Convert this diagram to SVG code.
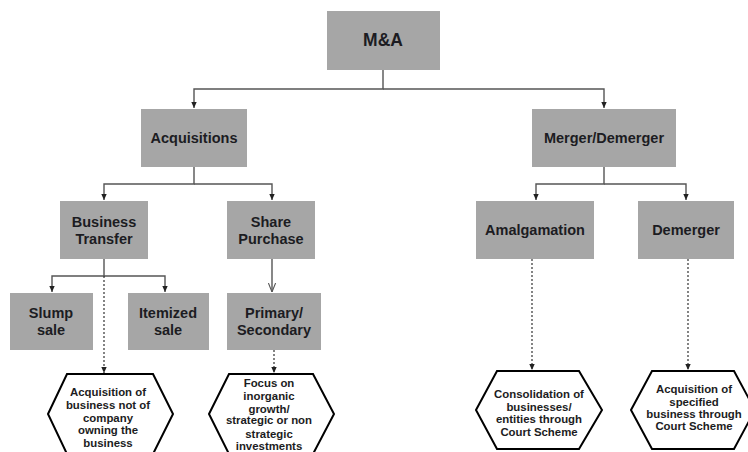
<svg xmlns="http://www.w3.org/2000/svg" width="748" height="452" viewBox="0 0 748 452">
<style>
.box{fill:#a6a6a6;}
.t{font-family:"Liberation Sans",Arial,sans-serif;font-weight:bold;font-size:14.5px;fill:#1c1c22;text-anchor:middle;}
.big{font-size:17.5px;}
.h{font-family:"Liberation Sans",Arial,sans-serif;font-weight:bold;font-size:11.4px;fill:#1c1c22;text-anchor:middle;}
.hex{fill:#ffffff;stroke:#000000;stroke-width:2;stroke-linejoin:miter;}
.c{fill:none;stroke:#555555;stroke-width:1.4;}
.d{fill:none;stroke:#333333;stroke-width:1.2;stroke-dasharray:2,2;}
</style>
<defs>
<marker id="ah" viewBox="0 0 10 10" refX="10" refY="5" markerWidth="6" markerHeight="6" markerUnits="userSpaceOnUse" orient="auto">
<path d="M0,0.5 L10,5 L0,9.5 z" fill="#222222"/>
</marker>
<marker id="open" viewBox="0 0 10 10" refX="10" refY="5" markerWidth="9" markerHeight="9" markerUnits="userSpaceOnUse" orient="auto">
<path d="M0,1 L10,5 L0,9" fill="none" stroke="#555555" stroke-width="1.2"/>
</marker>
</defs>
<rect width="748" height="452" fill="#ffffff"/>
<g id="connectors">
<path class="c" d="M383,70 V89 H194 V108" marker-end="url(#ah)"/>
<path class="c" d="M383,89 H604 V108" marker-end="url(#ah)"/>
<path class="c" d="M194,167 V184 H104 V200" marker-end="url(#ah)"/>
<path class="c" d="M194,184 H272 V200" marker-end="url(#ah)"/>
<path class="c" d="M604,167 V184 H536 V200" marker-end="url(#ah)"/>
<path class="c" d="M604,184 H686 V200" marker-end="url(#ah)"/>
<path class="c" d="M104,259 V276 H52 V292" marker-end="url(#ah)"/>
<path class="c" d="M104,276 H165 V292" marker-end="url(#ah)"/>
<path class="c" d="M272,259 V292" marker-end="url(#open)"/>
<path class="d" d="M104,276 V373" marker-end="url(#ah)"/>
<path class="d" d="M274,350 V373" marker-end="url(#ah)"/>
<path class="d" d="M532,259 V370" marker-end="url(#ah)"/>
<path class="d" d="M688,259 V370" marker-end="url(#ah)"/>
</g>
<g id="ma">
<rect class="box" x="327" y="11" width="113" height="59"/>
<text class="t big" x="383" y="46">M&amp;A</text>
</g>
<g id="acquisitions">
<rect class="box" x="141" y="109" width="106" height="58"/>
<text class="t" x="194" y="143">Acquisitions</text>
</g>
<g id="merger-demerger">
<rect class="box" x="532" y="109" width="144" height="58"/>
<text class="t" x="604" y="143">Merger/Demerger</text>
</g>
<g id="business-transfer">
<rect class="box" x="60" y="201" width="88" height="58"/>
<text class="t" x="104" y="227">Business</text>
<text class="t" x="104" y="244">Transfer</text>
</g>
<g id="share-purchase">
<rect class="box" x="227" y="201" width="88" height="58"/>
<text class="t" x="271" y="227">Share</text>
<text class="t" x="271" y="244">Purchase</text>
</g>
<g id="amalgamation">
<rect class="box" x="476" y="201" width="118" height="58"/>
<text class="t" x="535" y="235">Amalgamation</text>
</g>
<g id="demerger">
<rect class="box" x="638" y="201" width="96" height="58"/>
<text class="t" x="686" y="235">Demerger</text>
</g>
<g id="slump-sale">
<rect class="box" x="10" y="293" width="83" height="57"/>
<text class="t" x="51" y="318">Slump</text>
<text class="t" x="51" y="335">sale</text>
</g>
<g id="itemized-sale">
<rect class="box" x="128" y="293" width="81" height="57"/>
<text class="t" x="168" y="318">Itemized</text>
<text class="t" x="168" y="335">sale</text>
</g>
<g id="primary-secondary">
<rect class="box" x="227" y="293" width="94" height="57"/>
<text class="t" x="274" y="318">Primary/</text>
<text class="t" x="274" y="335">Secondary</text>
</g>
<g id="hex-business">
<polygon class="hex" points="48,414 67,374 153,374 173,414 153,454 67,454"/>
<text class="h" x="108" y="396">Acquisition of</text>
<text class="h" x="108" y="409">business not of</text>
<text class="h" x="108" y="422">company</text>
<text class="h" x="108" y="434">owning the</text>
<text class="h" x="108" y="447">business</text>
</g>
<g id="hex-share">
<polygon class="hex" points="209,414 229,374 313,374 334,414 313,454 229,454"/>
<text class="h" x="269" y="387">Focus on</text>
<text class="h" x="269" y="400">inorganic</text>
<text class="h" x="269" y="413">growth/</text>
<text class="h" x="269" y="424">strategic or non</text>
<text class="h" x="269" y="438">strategic</text>
<text class="h" x="269" y="450">investments</text>
</g>
<g id="hex-amalgamation">
<polygon class="hex" points="476,410 497,371 579,371 602,410 579,449 497,449"/>
<text class="h" x="539" y="398">Consolidation of</text>
<text class="h" x="539" y="411">businesses/</text>
<text class="h" x="539" y="423">entities through</text>
<text class="h" x="539" y="436">Court Scheme</text>
</g>
<g id="hex-demerger">
<polygon class="hex" points="631,410 652,371 734,371 755,410 734,449 652,449"/>
<text class="h" x="694" y="393">Acquisition of</text>
<text class="h" x="694" y="406">specified</text>
<text class="h" x="694" y="418">business through</text>
<text class="h" x="694" y="430">Court Scheme</text>
</g>
</svg>
